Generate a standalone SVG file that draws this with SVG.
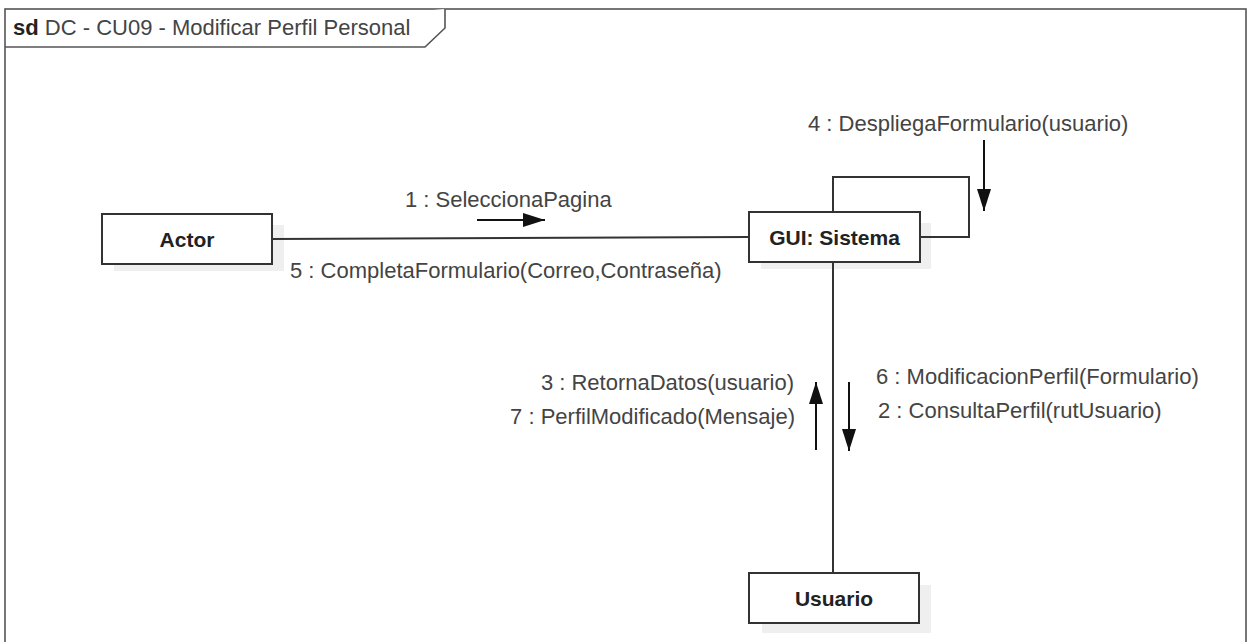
<svg xmlns="http://www.w3.org/2000/svg" width="1247" height="642" viewBox="0 0 1247 642">
<defs>
<style>
.frame{fill:#fff;stroke:#555;stroke-width:1.6}
.box{fill:#fff;stroke:#333;stroke-width:2}
.shadow{fill:#efefef;stroke:none}
.conn{fill:none;stroke:#333;stroke-width:2}
.arr{fill:none;stroke:#111;stroke-width:2}
.lbl{font-family:"Liberation Sans",Arial,sans-serif;font-size:22px;fill:#444}
.name{font-family:"Liberation Sans",Arial,sans-serif;font-size:21px;font-weight:bold;fill:#222;text-anchor:middle}
</style>
<marker id="ah" viewBox="0 0 22 14" refX="22" refY="7" markerWidth="22" markerHeight="14" markerUnits="userSpaceOnUse" orient="auto">
<path d="M0,0 L22,7 L0,14 Z" fill="#111"/>
</marker>
</defs>
<rect x="0" y="0" width="1247" height="642" fill="#fff"/>
<g id="frame">
<rect class="frame" x="5" y="9" width="1241" height="640"/>
<path class="frame" d="M5,47 L425,47 L445,28 L445,9" fill="none"/>
<text x="13" y="35" style="font-family:'Liberation Sans',Arial,sans-serif;font-size:22px;fill:#444"><tspan font-weight="bold" fill="#222">sd</tspan> DC - CU09 - Modificar Perfil Personal</text>
</g>
<g id="shadows">
<rect class="shadow" x="114" y="225" width="170" height="46"/>
<rect class="shadow" x="761" y="223" width="170" height="46"/>
<rect class="shadow" x="762" y="585" width="169" height="48"/>
</g>
<g id="connectors">
<line class="conn" x1="272" y1="239" x2="749" y2="237"/>
<path class="conn" d="M833,212 L833,177 L969,177 L969,237 L920,237"/>
<line class="conn" x1="833" y1="262" x2="833" y2="573"/>
<line class="arr" x1="477" y1="220" x2="545" y2="220" marker-end="url(#ah)"/>
<line class="arr" x1="984" y1="140" x2="984" y2="211" marker-end="url(#ah)"/>
<line class="arr" x1="816" y1="450" x2="816" y2="382" marker-end="url(#ah)"/>
<line class="arr" x1="849" y1="382" x2="849" y2="451" marker-end="url(#ah)"/>
<text class="lbl" x="808" y="131">4 : DespliegaFormulario(usuario)</text>
<text class="lbl" x="405" y="207">1 : SeleccionaPagina</text>
<text class="lbl" x="290" y="278">5 : CompletaFormulario(Correo,Contraseña)</text>
<text class="lbl" x="794" y="390" text-anchor="end">3 : RetornaDatos(usuario)</text>
<text class="lbl" x="795" y="424" text-anchor="end">7 : PerfilModificado(Mensaje)</text>
<text class="lbl" x="876" y="384">6 : ModificacionPerfil(Formulario)</text>
<text class="lbl" x="878" y="418">2 : ConsultaPerfil(rutUsuario)</text>
</g>
<g id="actor">
<rect class="box" x="102" y="214" width="170" height="50"/>
<text class="name" x="187" y="247">Actor</text>
</g>
<g id="gui">
<rect class="box" x="749" y="212" width="171" height="50"/>
<text class="name" x="834.5" y="245">GUI: Sistema</text>
</g>
<g id="usuario">
<rect class="box" x="749" y="573" width="170" height="50"/>
<text class="name" x="834" y="606">Usuario</text>
</g>
</svg>
